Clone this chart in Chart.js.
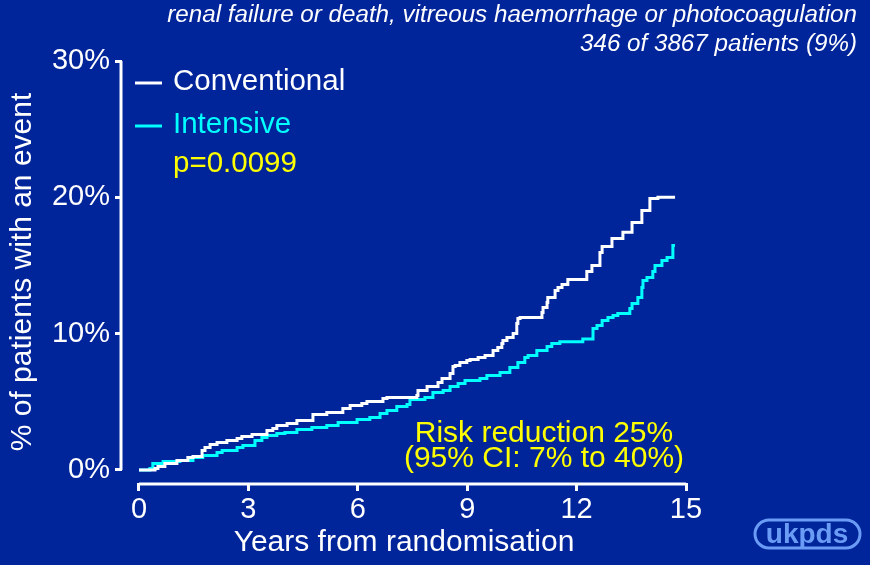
<!DOCTYPE html>
<html>
<head>
<meta charset="utf-8">
<script src="https://cdn.jsdelivr.net/npm/chart.js@4.4.0/dist/chart.umd.min.js"></script>
<style>
    html, body { margin: 0; padding: 0; background: #00249a; }
    #chart { display: block; }
</style>
</head>
<body>
<canvas id="chart" width="870" height="565"></canvas>
<script>
// Cumulative incidence (%), one point per step
const convYears = [0, 0.44, 0.52, 0.71, 1.04, 1.34, 1.48, 1.73, 1.81, 1.95, 2.14, 2.41, 2.69, 2.82, 3.10, 3.51, 3.67, 3.78, 4.06, 4.33, 4.77, 5.15, 5.59, 5.79, 6.11, 6.25, 6.69, 6.80, 7.62, 7.65, 7.90, 8.20, 8.31, 8.53, 8.61, 8.67, 8.80, 8.99, 9.08, 9.30, 9.49, 9.71, 9.84, 9.95, 9.98, 10.09, 10.26, 10.36, 10.39, 10.45, 11.05, 11.08, 11.19, 11.21, 11.41, 11.49, 11.60, 11.76, 12.28, 12.42, 12.64, 12.70, 12.97, 13.27, 13.52, 13.79, 14.01, 14.23, 14.70];
const convPct = [0, 0, 0.11, 0.26, 0.48, 0.70, 0.92, 0.99, 1.43, 1.65, 1.87, 2.02, 2.16, 2.31, 2.46, 2.60, 2.90, 3.04, 3.26, 3.41, 3.63, 4.07, 4.22, 4.51, 4.73, 4.88, 5.03, 5.25, 5.32, 5.47, 5.83, 6.13, 6.42, 6.71, 7.08, 7.59, 7.67, 7.89, 8.03, 8.11, 8.25, 8.40, 8.77, 8.99, 9.28, 9.50, 9.72, 10.01, 10.75, 11.12, 11.19, 11.56, 11.92, 12.29, 12.66, 13.17, 13.39, 13.61, 13.98, 14.56, 15.0, 15.96, 16.4, 16.98, 17.43, 18.16, 19.04, 19.92, 20.0];

const intYears = [0, 0.30, 0.38, 0.66, 1.12, 1.48, 1.75, 2.14, 2.28, 2.69, 2.85, 3.18, 3.37, 3.51, 3.78, 4.00, 4.33, 4.74, 5.15, 5.46, 5.98, 6.33, 6.61, 6.80, 7.07, 7.35, 7.43, 7.84, 8.06, 8.34, 8.53, 8.75, 8.94, 9.35, 9.54, 9.90, 10.17, 10.39, 10.58, 10.67, 10.91, 11.19, 11.32, 11.54, 12.17, 12.45, 12.56, 12.70, 12.86, 13.00, 13.13, 13.46, 13.52, 13.68, 13.79, 13.82, 13.93, 14.09, 14.15, 14.34, 14.48, 14.64, 14.70];
const intPct = [0, 0, 0.11, 0.48, 0.62, 0.70, 0.92, 1.06, 1.28, 1.43, 1.65, 1.80, 2.16, 2.38, 2.53, 2.68, 2.75, 2.97, 3.12, 3.26, 3.48, 3.70, 3.85, 4.15, 4.37, 4.66, 4.81, 5.17, 5.32, 5.69, 5.83, 6.13, 6.35, 6.57, 6.71, 6.93, 7.15, 7.52, 7.89, 8.25, 8.40, 8.77, 9.06, 9.28, 9.40, 9.60, 10.38, 10.60, 10.97, 11.19, 11.34, 11.48, 11.85, 12.22, 12.66, 13.39, 13.90, 14.12, 14.56, 15.0, 15.37, 15.59, 16.47];

const seriesNames = ['Conventional', 'Intensive'];
const xTicks = [0, 3, 6, 9, 12, 15];
const yTicks = [0, 10, 20, 30];

const BG = '#00249a';
const FONT = "'Liberation Sans', Arial, sans-serif";

const toPoints = (xs, ys) => xs.map((x, i) => ({ x: x, y: ys[i] }));

// background, detached axis lines, legend and notes
const decorations = {
    id: 'decorations',
    beforeDraw(chart) {
        const ctx = chart.ctx;
        ctx.save();
        ctx.fillStyle = BG;
        ctx.fillRect(0, 0, chart.width, chart.height);
        ctx.restore();
    },
    afterDraw(chart) {
        const ctx = chart.ctx;
        const xs = chart.scales.x, ys = chart.scales.y;
        const area = chart.chartArea;
        ctx.save();

        // axis lines only span the data range
        ctx.strokeStyle = '#fff';
        ctx.lineWidth = 3;
        ctx.beginPath();
        ctx.moveTo(area.left - 1, ys.getPixelForValue(0));
        ctx.lineTo(area.left - 1, ys.getPixelForValue(30));
        ctx.moveTo(xs.getPixelForValue(0), area.bottom + 1);
        ctx.lineTo(xs.getPixelForValue(15), area.bottom + 1);
        ctx.stroke();

        // legend
        const colors = chart.data.datasets.map(d => d.borderColor);
        ctx.font = '29.5px ' + FONT;
        ctx.textAlign = 'left';
        ctx.textBaseline = 'alphabetic';
        [[83, 90], [126, 133]].forEach(([ly, by], i) => {
            ctx.strokeStyle = colors[i];
            ctx.beginPath();
            ctx.moveTo(135, ly);
            ctx.lineTo(162, ly);
            ctx.stroke();
            ctx.fillStyle = colors[i];
            ctx.fillText(seriesNames[i], 173, by);
        });
        ctx.fillStyle = '#ffff00';
        ctx.fillText('p=0.0099', 173, 172);

        // risk reduction note
        ctx.font = '30px ' + FONT;
        ctx.textAlign = 'center';
        ctx.fillText('Risk reduction 25%', 544, 442);
        ctx.fillText('(95% CI: 7% to 40%)', 544, 467);

        // header
        ctx.fillStyle = '#fff';
        ctx.textAlign = 'right';
        ctx.font = 'italic 24.2px ' + FONT;
        ctx.fillText('renal failure or death, vitreous haemorrhage or photocoagulation', 857, 22);
        ctx.fillText('346 of 3867 patients (9%)', 857, 51);

        // logo
        ctx.strokeStyle = '#6a9cf6';
        ctx.fillStyle = '#6a9cf6';
        ctx.lineWidth = 3;
        ctx.beginPath();
        ctx.roundRect(755, 520, 105, 28, 14);
        ctx.stroke();
        ctx.textAlign = 'center';
        ctx.font = 'bold 28px ' + FONT;
        ctx.fillText('ukpds', 807, 543);

        ctx.restore();
    }
};

new Chart(document.getElementById('chart'), {
    type: 'line',
    data: {
        datasets: [
            { label: seriesNames[0], data: toPoints(convYears, convPct), borderColor: '#ffffff', borderWidth: 3, stepped: 'after', pointRadius: 0, fill: false },
            { label: seriesNames[1], data: toPoints(intYears, intPct), borderColor: '#00ffff', borderWidth: 3, stepped: 'after', pointRadius: 0, fill: false }
        ]
    },
    options: {
        responsive: false,
        animation: false,
        layout: { padding: { top: 61, right: 184, left: 0, bottom: 0 } },
        plugins: { legend: { display: false }, tooltip: { enabled: false } },
        scales: {
            x: {
                type: 'linear',
                min: -0.466,
                max: 15,
                afterBuildTicks: s => { s.ticks = xTicks.map(v => ({ value: v })); },
                afterFit: s => { s.height = 82; },
                ticks: { color: '#fff', font: { family: FONT, size: 29 }, padding: 2, maxRotation: 0 },
                grid: { display: true, drawOnChartArea: false, drawTicks: true, tickLength: 8, color: '#fff', lineWidth: 3 },
                border: { display: false },
                title: { display: true, text: 'Years from randomisation', color: '#fff', font: { family: FONT, size: 30 }, padding: { top: 0, bottom: 4 } }
            },
            y: {
                min: -0.954,
                max: 30,
                afterBuildTicks: s => { s.ticks = yTicks.map(v => ({ value: v })); },
                afterFit: s => { s.width = 122; },
                ticks: { color: '#fff', font: { family: FONT, size: 29 }, padding: 5, callback: v => v + '%' },
                grid: { display: true, drawOnChartArea: false, drawTicks: true, tickLength: 7, color: '#fff', lineWidth: 3 },
                border: { display: false },
                title: { display: true, text: '% of patients with an event', color: '#fff', font: { family: FONT, size: 30 }, padding: { top: 5, bottom: 0 } }
            }
        }
    },
    plugins: [decorations]
});
</script>
</body>
</html>
